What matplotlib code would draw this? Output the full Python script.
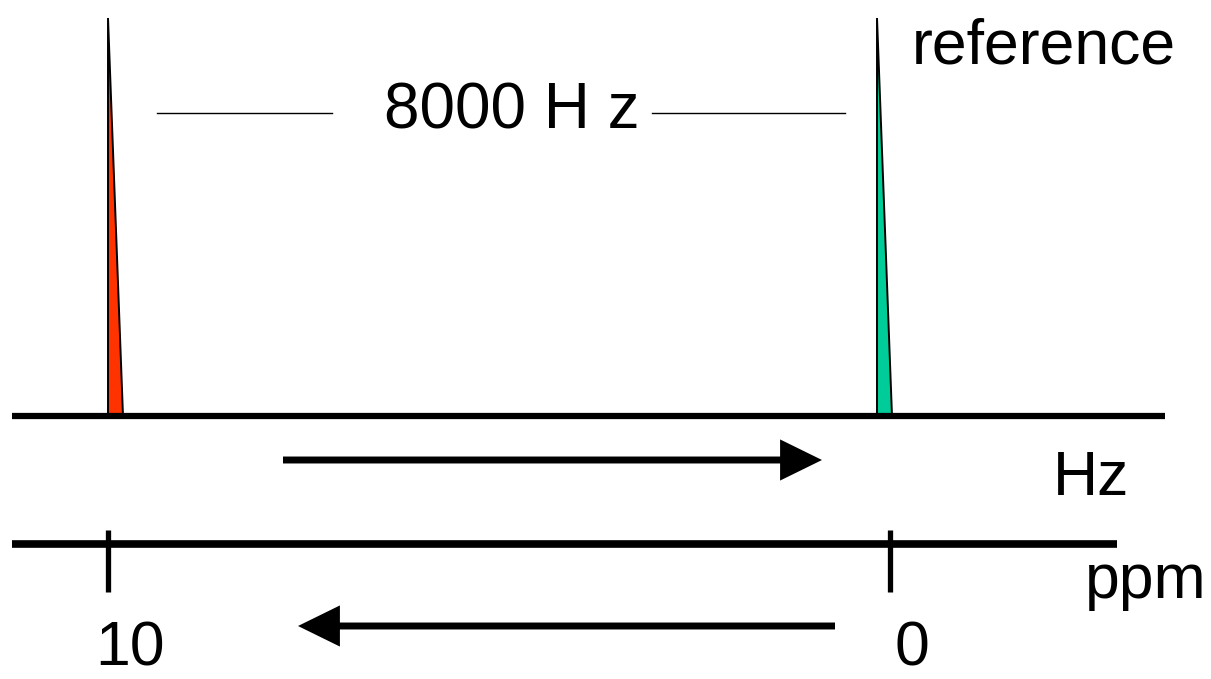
import matplotlib.pyplot as plt
from matplotlib.patches import Polygon

# peak data (chemical shift in ppm, relative intensity)
peak_ppm = [10.0, 0.17]
peak_height = [1.0, 1.0]
peak_width = 0.19
peak_colors = ["#ff3300", "#00cc99"]

ppm_ticks = [10, 0]
ppm_tick_labels = ["10", "0"]
separation_label = "8000 H z"

W, H = 1211, 679
PX_PER_PPM = 78.2
PX_PER_UNIT = 398.0


# helpers to place the decorations (pixel position -> data units)
def dx(x):
    return 10 - (x - 108) / PX_PER_PPM


def dy(y):
    return (416 - y) / PX_PER_UNIT


plt.rcParams['font.family'] = ['Liberation Sans', 'DejaVu Sans']

fig = plt.figure(figsize=(W / 100, H / 100), dpi=100)
ax = fig.add_axes([0, 0, 1, 1])
ax.set_xlim(dx(0), dx(W))
ax.set_ylim(dy(H), dy(0))
ax.axis('off')

# peaks
for p, h, c in zip(peak_ppm, peak_height, peak_colors):
    tri = Polygon([(p, h), (p, 0), (p - peak_width, 0)], closed=True,
                  facecolor=c, edgecolor='black', lw=1.4, zorder=2)
    ax.add_patch(tri)

# spectrum baseline
ax.plot([dx(12), dx(1165)], [0, 0], color='black', lw=4.5, solid_capstyle='butt', zorder=3)

# ppm scale
ax.plot([dx(12), dx(1117)], [dy(544), dy(544)], color='black', lw=5.5, solid_capstyle='butt')
label_shift = 22 / PX_PER_PPM
for t, lab in zip(ppm_ticks, ppm_tick_labels):
    ax.plot([t, t], [dy(530), dy(592)], color='black', lw=3.8, solid_capstyle='butt')
    ax.text(t - label_shift, dy(678), lab, fontsize=45, ha='center', va='bottom')

# separation marker
ax.plot([dx(157), dx(332)], [dy(113), dy(113)], color='black', lw=1)
ax.plot([dx(652), dx(845)], [dy(113), dy(113)], color='black', lw=1)
ax.text(dx(512), dy(128), separation_label, fontsize=46, ha='center', va='baseline')

ax.text(dx(912), dy(63), "reference", fontsize=45, ha='left', va='baseline')
ax.text(dx(1053), dy(495), "Hz", fontsize=45, ha='left', va='baseline')
ax.text(dx(1085), dy(598), "ppm", fontsize=45, ha='left', va='baseline')

# direction arrows
arrow = dict(arrowstyle='-|>,head_length=0.55,head_width=0.27', lw=5,
             color='black', shrinkA=0, shrinkB=0, mutation_scale=40,
             joinstyle='miter', capstyle='butt')
ax.annotate('', xy=(dx(822), dy(460)), xytext=(dx(283), dy(460)), arrowprops=arrow)
ax.annotate('', xy=(dx(298), dy(626)), xytext=(dx(835), dy(626)), arrowprops=arrow)

fig.savefig("out.png", dpi=100)
